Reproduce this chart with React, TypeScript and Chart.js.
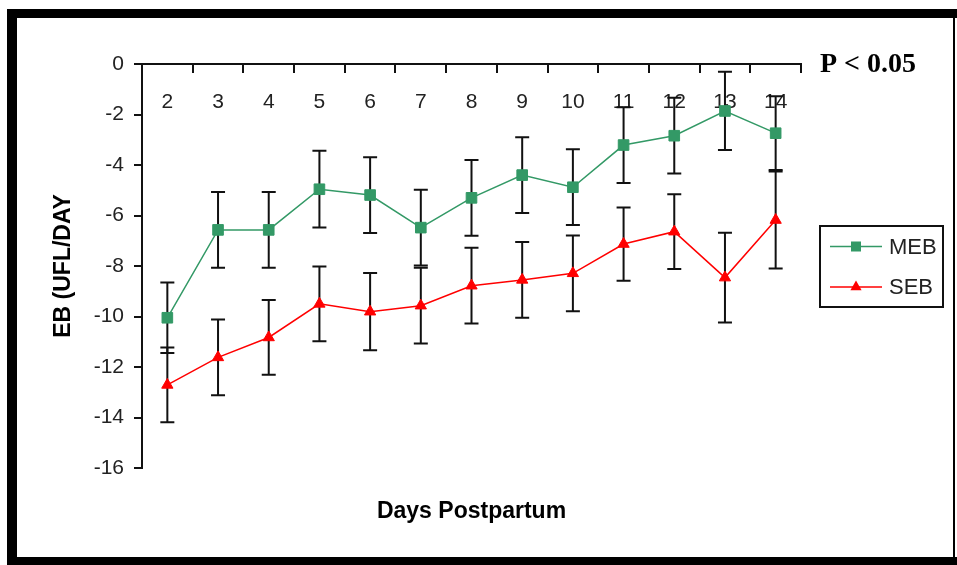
import React, { useEffect, useRef } from "react";
import { Chart, registerables } from "chart.js";

Chart.register(...registerables);

const days = ["2", "3", "4", "5", "6", "7", "8", "9", "10", "11", "12", "13", "14"];
const mebValues = [-10.05, -6.57, -6.57, -4.96, -5.19, -6.48, -5.3, -4.4, -4.88, -3.21, -2.84, -1.86, -2.74];
const mebErrors = [1.4, 1.5, 1.5, 1.52, 1.5, 1.5, 1.5, 1.5, 1.5, 1.5, 1.5, 1.55, 1.46];
const sebValues = [-12.71, -11.62, -10.83, -9.5, -9.81, -9.57, -8.78, -8.55, -8.29, -7.13, -6.64, -8.46, -6.18];
const sebErrors = [1.48, 1.5, 1.48, 1.48, 1.53, 1.5, 1.5, 1.5, 1.5, 1.45, 1.48, 1.78, 1.92];
const yTicks = { min: -16, max: 0, step: 2 };

const seriesNames = ["MEB", "SEB"];
const GREEN = "#339966";
const RED = "#ff0000";
const SANS = "'Liberation Sans', Arial, sans-serif";
const SERIF = "'Liberation Serif', 'Times New Roman', serif";

const errors = [mebErrors, sebErrors];

const framePlugin = {
  id: "frame",
  beforeDraw(chart: any) {
    const { ctx, width, height } = chart;
    ctx.save();
    ctx.fillStyle = "#fff";
    ctx.fillRect(0, 0, width, height);
    ctx.fillStyle = "#000";
    ctx.fillRect(7, 9, width - 7, 9);
    ctx.fillRect(7, 9, 10, height - 9);
    ctx.fillRect(7, 557, width - 7, height - 557);
    ctx.fillRect(953, 9, 2, height - 9);
    ctx.restore();
  },
};

const errorBarPlugin = {
  id: "errorBars",
  beforeDatasetsDraw(chart: any) {
    const { ctx } = chart;
    const xs = chart.scales.x;
    const ys = chart.scales.y;
    ctx.save();
    ctx.strokeStyle = "#111";
    ctx.lineWidth = 2;
    chart.data.datasets.forEach((ds: any, di: number) => {
      ds.data.forEach((v: number, i: number) => {
        const e = errors[di][i];
        const x = xs.getPixelForValue(i);
        const yt = ys.getPixelForValue(v + e);
        const yb = ys.getPixelForValue(v - e);
        ctx.beginPath();
        ctx.moveTo(x, yt);
        ctx.lineTo(x, yb);
        ctx.moveTo(x - 7, yt);
        ctx.lineTo(x + 7, yt);
        ctx.moveTo(x - 7, yb);
        ctx.lineTo(x + 7, yb);
        ctx.stroke();
      });
    });
    ctx.restore();
  },
};

const textPlugin = {
  id: "texts",
  afterDraw(chart: any) {
    const { ctx, chartArea } = chart;
    ctx.save();
    ctx.fillStyle = "#000";
    ctx.font = `bold 23px ${SANS}`;
    ctx.textAlign = "center";
    ctx.textBaseline = "alphabetic";
    ctx.fillText("Days Postpartum", (chartArea.left + chartArea.right) / 2, 518);
    ctx.font = `bold 28px ${SERIF}`;
    ctx.textAlign = "left";
    ctx.fillText("P < 0.05", 820, 72);
    const bx = 820, by = 226, bw = 123, bh = 81;
    ctx.strokeStyle = "#111";
    ctx.lineWidth = 2;
    ctx.strokeRect(bx, by, bw, bh);
    const rows = [246.5, 287];
    chart.data.datasets.forEach((ds: any, i: number) => {
      const y = rows[i];
      ctx.strokeStyle = ds.borderColor;
      ctx.lineWidth = 1.5;
      ctx.beginPath();
      ctx.moveTo(830, y);
      ctx.lineTo(882, y);
      ctx.stroke();
      ctx.fillStyle = ds.pointBackgroundColor;
      if (ds.pointStyle === "rect") {
        ctx.fillRect(856 - 5, y - 5, 10, 10);
      } else {
        ctx.beginPath();
        ctx.moveTo(856, y - 6.5);
        ctx.lineTo(856 + 5.6, y + 3.3);
        ctx.lineTo(856 - 5.6, y + 3.3);
        ctx.closePath();
        ctx.fill();
      }
      ctx.fillStyle = "#222";
      ctx.font = `22px ${SANS}`;
      ctx.textAlign = "left";
      ctx.textBaseline = "middle";
      ctx.fillText(ds.label, 889, y + 1);
    });
    ctx.restore();
  },
};

export default function App() {
  const ref = useRef<HTMLCanvasElement | null>(null);
  useEffect(() => {
    document.body.style.margin = "0";
    const canvas = ref.current;
    if (!canvas) return;
    const chart = new Chart(canvas, {
      type: "line",
      data: {
        labels: days,
        datasets: [
          {
            label: seriesNames[0],
            data: mebValues,
            borderColor: GREEN,
            backgroundColor: GREEN,
            pointBackgroundColor: GREEN,
            pointBorderColor: GREEN,
            pointStyle: "rect",
            pointRadius: 7.5,
            pointBorderWidth: 1,
            borderWidth: 1.5,
            tension: 0,
          },
          {
            label: seriesNames[1],
            data: sebValues,
            borderColor: RED,
            backgroundColor: RED,
            pointBackgroundColor: RED,
            pointBorderColor: RED,
            pointStyle: "triangle",
            pointRadius: 6.5,
            pointBorderWidth: 1,
            borderWidth: 1.5,
            tension: 0,
          },
        ],
      },
      options: {
        responsive: false,
        animation: false,
        devicePixelRatio: 1,
        layout: { padding: { left: 0, top: 64, right: 156, bottom: 97 } },
        plugins: {
          legend: { display: false },
          tooltip: { enabled: false },
        },
        scales: {
          x: {
            type: "category",
            position: { y: 0 },
            offset: true,
            grid: {
              display: true,
              drawOnChartArea: false,
              drawTicks: true,
              tickLength: 8,
              offset: true,
              color: "#111",
              lineWidth: 2,
            },
            border: { display: true, color: "#111", width: 2 },
            ticks: {
              color: "#222",
              font: { size: 21, family: SANS },
              padding: 18,
              maxRotation: 0,
              autoSkip: false,
            },
          },
          y: {
            min: yTicks.min,
            max: yTicks.max,
            ticks: {
              stepSize: yTicks.step,
              color: "#222",
              font: { size: 21, family: SANS },
              padding: 10,
            },
            grid: {
              drawOnChartArea: false,
              drawTicks: true,
              tickLength: 8,
              color: "#111",
              lineWidth: 2,
            },
            border: { display: true, color: "#111", width: 2 },
            title: {
              display: true,
              text: "EB (UFL/DAY",
              color: "#000",
              font: { size: 23, weight: "bold", family: SANS },
              padding: { top: 50, bottom: 0 },
            },
            afterFit: (s: any) => {
              s.width = 142;
            },
          },
        },
      } as any,
      plugins: [framePlugin, errorBarPlugin, textPlugin],
    });
    return () => chart.destroy();
  }, []);
  return (
    <div style={{ width: 957, height: 565 }}>
      <canvas ref={ref} width={957} height={565} style={{ display: "block" }} />
    </div>
  );
}
